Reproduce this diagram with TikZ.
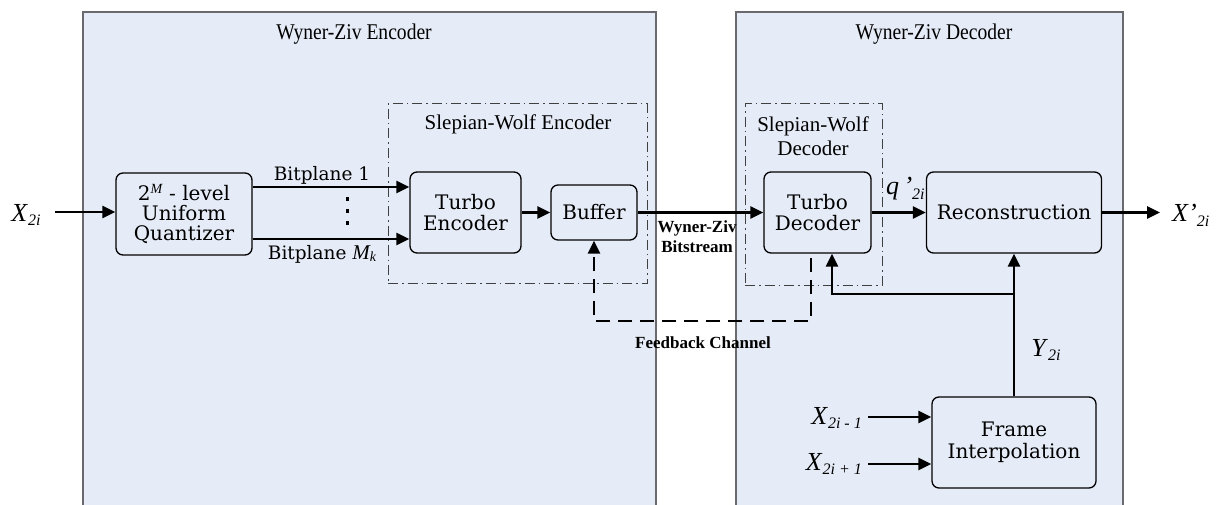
\documentclass[tikz,border=0pt]{standalone}
\usepackage{fontspec}
\setmainfont{Liberation Serif}
\newfontfamily\boxfont{DejaVu Serif}
\usetikzlibrary{arrows.meta}

\definecolor{panelblue}{RGB}{230,236,247}
\definecolor{panelline}{RGB}{105,105,110}

% italic symbol with a lowered italic subscript
\newcommand{\symsub}[2]{\textit{#1}\raisebox{-0.4ex}{\fontsize{16}{16}\selectfont\textit{#2}}}
% narrow title text
\newcommand{\narrowtext}[1]{\scalebox{0.87}[1]{#1}}

\tikzset{
  panel/.style={draw=panelline, line width=1.3pt, fill=panelblue},
  block/.style={draw=black, line width=1.3pt, rounded corners=7pt, fill=panelblue,
    align=center, inner sep=0pt, font=\boxfont\fontsize{20}{21.5}\selectfont},
  swbox/.style={draw=black!75, line width=1pt, dash pattern=on 10pt off 4pt on 1.5pt off 4pt},
  flow/.style={line width=2.5pt, -{Triangle[length=13pt,width=12pt]}},
  fback/.style={line width=2.8pt, dash pattern=on 14pt off 8pt,
    -{Triangle[length=13pt,width=12pt]}},
  title/.style={font=\fontsize{22.5}{24}\selectfont, inner sep=0pt, anchor=base},
  swtitle/.style={font=\fontsize{21}{25}\selectfont, inner sep=0pt, align=center},
  bplabel/.style={font=\boxfont\fontsize{18.5}{20}\selectfont, inner sep=0pt},
  boldlabel/.style={font=\bfseries\fontsize{17}{20}\selectfont, inner sep=0pt, align=center},
  sym/.style={font=\fontsize{26}{28}\selectfont, inner sep=0pt},
}

\begin{document}
\begin{tikzpicture}[x=1pt, y=-1pt]
\useasboundingbox (0,0) rectangle (1223,505);

% the two halves of the codec
\path[panel] (83,515) -- (83,12) -- (656,12) -- (656,515);
\path[panel] (736,515) -- (736,12) -- (1123,12) -- (1123,515);
\node[title] (enctitle) at (354,40) {\narrowtext{Wyner-Ziv Encoder}};
\node[title] (dectitle) at (934,40) {\narrowtext{Wyner-Ziv Decoder}};

% Slepian-Wolf groups
\node[swbox, minimum width=259pt, minimum height=179pt, inner sep=0pt] (swenc) at (517.5,193.5) {};
\node[swtitle] (swenctitle) at (518,124) {Slepian-Wolf Encoder};
\node[swtitle] (swdectitle) at (813,136) {Slepian-Wolf\\[-1pt]Decoder};
\node[swbox, minimum width=137pt, minimum height=181pt, inner sep=0pt] (swdec) at (813.5,194.5) {};

% processing blocks
\node[block, minimum width=136pt, minimum height=82pt] (quant) at (184,214)
  {2\textsuperscript{\rmfamily\itshape M} - level\\[-1.5pt]Uniform\\[-1.5pt]Quantizer};
\node[block, minimum width=111pt, minimum height=81pt] (tenc) at (465.5,212.5) {Turbo\\Encoder};
\node[block, minimum width=86pt, minimum height=55pt] (buf) at (594,212.5) {Buffer};
\node[block, minimum width=107pt, minimum height=81pt] (tdec) at (817.5,212.5) {Turbo\\Decoder};
\node[block, minimum width=175pt, minimum height=81pt] (recon) at (1014,212.5) {Reconstruction};
\node[block, minimum width=164pt, minimum height=91pt] (finterp) at (1014,442.5) {Frame\\Interpolation};

% input
\node[sym] (xin) at (26,215) {\symsub{X}{2i}};
\coordinate (xinend) at (55,212);
\draw[flow] (xinend) -- (quant.west |- xinend);

% bitplanes
\coordinate (bpa) at (0,187);
\coordinate (bpb) at (0,239);
\draw[flow] (quant.east |- bpa) -- (tenc.west |- bpa);
\draw[flow] (quant.east |- bpb) -- (tenc.west |- bpb);
\node[bplabel] (bp1) at (322,175) {Bitplane 1};
\node[bplabel, anchor=base] (bpm) at (322,259) {Bitplane {\rmfamily\itshape\fontsize{21}{21}\selectfont M}\raisebox{-0.3ex}{\rmfamily\itshape\fontsize{14}{14}\selectfont k}};
\foreach \yy in {199,211,223} \fill (345.5,\yy-1.6) rectangle (348.7,\yy+1.6);

% main chain
\draw[flow] (tenc.east) -- (buf.west);
\draw[flow] (buf.east) -- (tdec.west);
\node[boldlabel] (wzbits) at (697,237) {Wyner-Ziv\\Bitstream};
\draw[flow] (tdec.east) -- (recon.west);
\node[sym, anchor=base west] (qlab) at (886,195) {\textit{q}\,\textit{'}\raisebox{-0.4ex}{\fontsize{16}{16}\selectfont\textit{2i}}};
\coordinate (xoutend) at (1160,212.5);
\draw[flow] (recon.east) -- (xoutend);
\node[sym, anchor=west] (xout) at (1172,215) {\textit{X'}\raisebox{-0.4ex}{\fontsize{16}{16}\selectfont\textit{2i}}};

% feedback channel
\draw[fback] ([xshift=-6.5pt,yshift=-4pt]tdec.south) -- (811,321) -| (buf.south);
\node[boldlabel] (fblab) at (703,343) {Feedback Channel};

% side information
\coordinate (join) at (1014,294);
\draw[flow] (finterp.north) -- (recon.south);
\draw[flow] (join) -| ([xshift=14.5pt]tdec.south);
\node[sym] (ylab) at (1046,350) {\symsub{Y}{2i}};

% frame interpolation inputs
\coordinate (xa) at (868,417);
\coordinate (xb) at (868,464);
\draw[flow] (xa) -- (finterp.west |- xa);
\draw[flow] (xb) -- (finterp.west |- xb);
\node[sym, anchor=east] (xprev) at (862,418) {\symsub{X}{2i - 1}};
\node[sym, anchor=east] (xnext) at (862,464) {\symsub{X}{2i + 1}};
\end{tikzpicture}
\end{document}
